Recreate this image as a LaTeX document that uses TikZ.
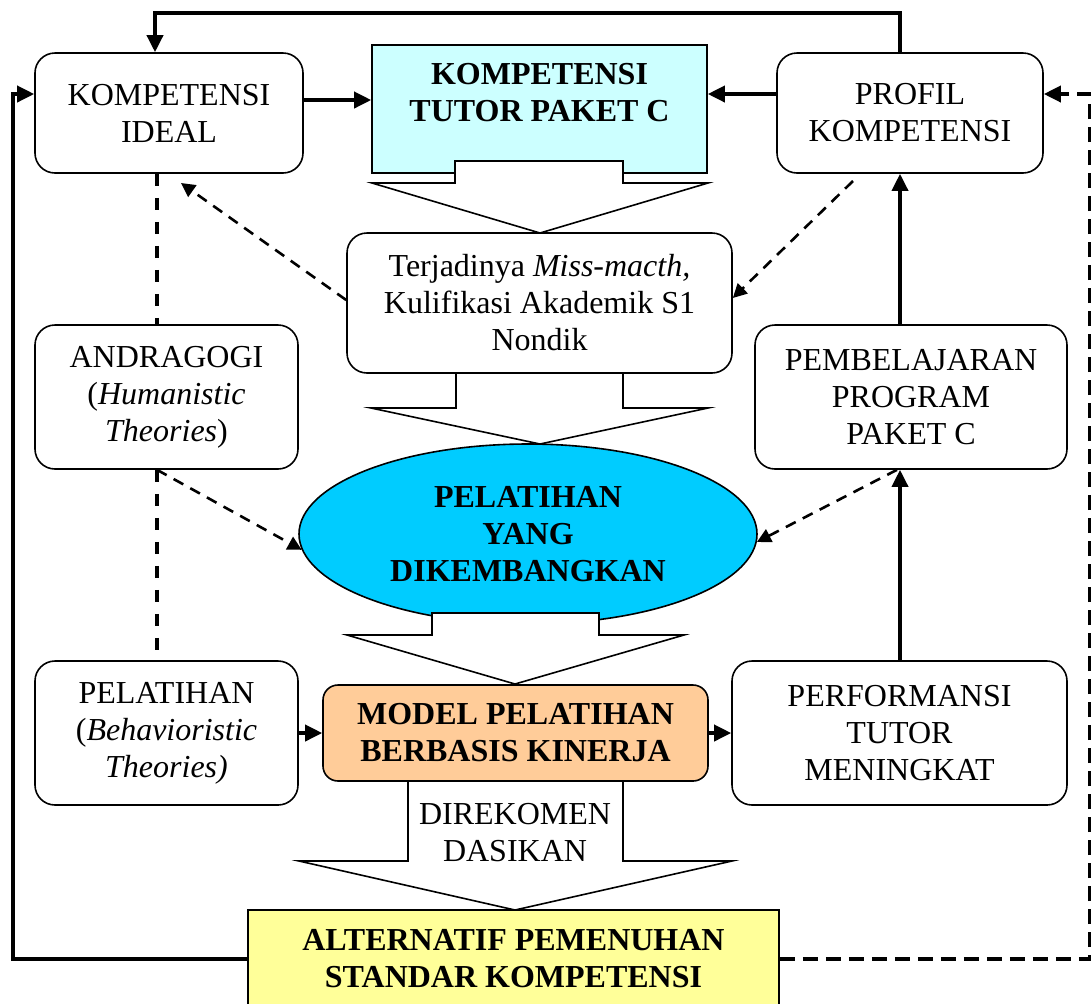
\documentclass[tikz,border=0pt]{standalone}
\usepackage{fontspec}
\setmainfont{Liberation Serif}
\usetikzlibrary{positioning}
\usetikzlibrary{arrows.meta}
\usetikzlibrary{shapes.geometric}
\definecolor{tutorcyan}{HTML}{CCFFFF}
\definecolor{latihcyan}{HTML}{00CCFF}
\definecolor{modelpeach}{HTML}{FFCC99}
\definecolor{altyellow}{HTML}{FFFF99}

\tikzset{
  rbox/.style={draw, line width=0.8pt, rounded corners=10pt},
  sqbox/.style={draw, line width=0.8pt},
  boldtext/.style={font=\fontsize{16}{18.5}\selectfont\bfseries},
  blockarrow/.style={draw, fill=white, line width=0.8pt, line join=miter},
  solidarrow/.style={line width=1.8pt, -{Triangle[length=8.5pt, width=8pt]}},
  dasharrow/.style={line width=1.3pt, dash pattern=on 5.5pt off 4pt, -{Triangle[length=7pt, width=7pt]}},
  thickdash/.style={line width=1.8pt, dash pattern=on 6pt off 6pt},
  loopdash/.style={line width=1.8pt, dash pattern=on 7.5pt off 4pt, -{Triangle[length=8.5pt, width=8pt]}}
}

\begin{document}
\begin{tikzpicture}[x=0.5pt, y=-0.5pt,
    every node/.style={align=center, inner sep=0pt, font=\fontsize{16}{18.5}\selectfont}]
    \useasboundingbox (0,0) rectangle (1091,1003);

    % boxes
    \node (ideal) [rbox, minimum width=134pt, minimum height=60pt] at (169,113) {KOMPETENSI\\IDEAL};
    \node (tutor) [sqbox, fill=tutorcyan, minimum width=167.5pt, minimum height=64pt] at (539.5,109) {};
    \node (tutortext) [boldtext] at (539.5,93) {KOMPETENSI\\TUTOR PAKET C};
    \node (profil) [rbox, minimum width=133pt, minimum height=60pt] at (910,113) {PROFIL\\KOMPETENSI};
    \node (terjadi) [rbox, minimum width=192.5pt, minimum height=70pt] at (539.5,303) {Terjadinya \textit{Miss-macth,}\\Kulifikasi Akademik S1\\Nondik};
    \node (andra) [rbox, minimum width=131.5pt, minimum height=72pt] at (166.5,397) {ANDRAGOGI\\(\textit{Humanistic}\\\textit{Theories})};
    \node (pembel) [rbox, minimum width=156pt, minimum height=72pt] at (911,397) {PEMBELAJARAN\\PROGRAM\\PAKET C};
    \node (latih) [ellipse, draw, line width=0.8pt, fill=latihcyan, minimum width=229pt, minimum height=90pt, boldtext] at (528,534) {PELATIHAN\\YANG\\DIKEMBANGKAN};
    \node (pelat) [rbox, minimum width=131.5pt, minimum height=72pt] at (166.5,733) {PELATIHAN\\(\textit{Behavioristic}\\\textit{Theories)}};
    \node (model) [rbox, rounded corners=7.5pt, fill=modelpeach, minimum width=192.5pt, minimum height=48pt, boldtext] at (515.5,733) {MODEL PELATIHAN\\BERBASIS KINERJA};
    \node (perform) [rbox, minimum width=167.5pt, minimum height=72pt] at (899.5,733) {PERFORMANSI\\TUTOR\\MENINGKAT};
    \node (alt) [sqbox, fill=altyellow, minimum width=265.5pt, minimum height=49pt, boldtext] at (513.5,959) {ALTERNATIF PEMENUHAN\\STANDAR KOMPETENSI};

    % block arrows down the middle
    \foreach \sl/\sr/\st/\sh/\hl/\hr/\tx/\ty in {455/623/161/183/372/708/540/233,
        456/623/373/408/371/708/540/444,
        432/599/613/635/347/684/515/684,
        408/623/781/861/299/732/515/910}
      \draw[blockarrow] (\sl,\st) -- (\sr,\st) -- (\sr,\sh) -- (\hr,\sh) -- (\tx,\ty) -- (\hl,\sh) -- (\sl,\sh) -- cycle;
    \node (rekom) at (515,833) {DIREKOMEN\\DASIKAN};

    % solid connectors
    \draw[solidarrow] (ideal.east |- 0,100) -- (tutor.west |- 0,100);
    \draw[solidarrow] (profil.west |- 0,94) -- (tutor.east |- 0,94);
    \draw[solidarrow] (profil.north -| 900,0) -- (900,13) -- (155,13) -- (ideal.north -| 155,0);
    \draw[solidarrow] (pembel.north -| 900,0) -- (profil.south -| 900,0);
    \draw[solidarrow] (perform.north -| 900,0) -- (pembel.south -| 900,0);
    \draw[solidarrow] (pelat.east) -- (model.west |- pelat.east);
    \draw[solidarrow] (model.east) -- (perform.west |- model.east);
    \draw[solidarrow] (alt.west) -- (13,959) -- (13,94) -- (ideal.west |- 0,94);
    \draw[loopdash] (alt.east) -- (1090,959) -- (1090,94) -- (profil.east |- 0,94);

    % dashed links
    \draw[thickdash] (ideal.south -| 157,0) -- (andra.north -| 157,0);
    \draw[thickdash] (andra.south -| 157,0) -- (pelat.north -| 157,0);
    \coordinate (idealtip) at (181,183);
    \coordinate (profiltail) at (853,181);
    \draw[dasharrow] (terjadi.west |- 0,300) -- (idealtip);
    \draw[dasharrow] (profiltail) -- (terjadi.east |- 0,298);
    \draw[dasharrow] (andra.south -| 157,0) -- (latih.184);
    \draw[dasharrow] (pembel.south -| 897,0) -- (latih.-2);
\end{tikzpicture}
\end{document}
